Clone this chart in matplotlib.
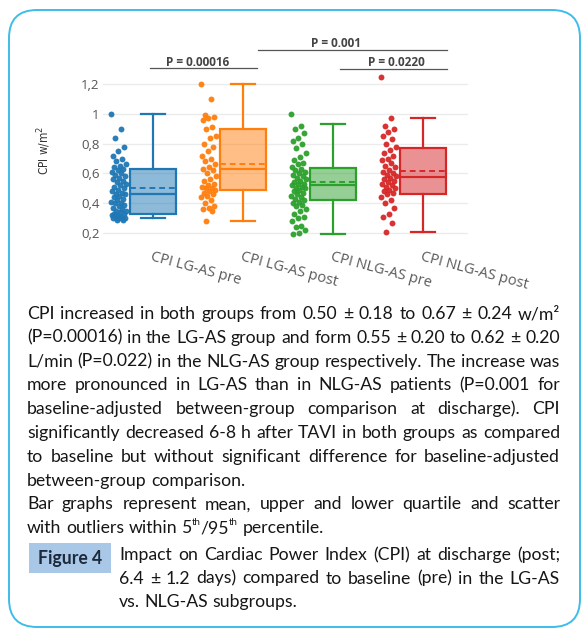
import numpy as np
import matplotlib
matplotlib.use("Agg")
import matplotlib.pyplot as plt
from matplotlib.patches import FancyBboxPatch, Rectangle

# ---------------- data ----------------
categories = ["CPI LG-AS pre", "CPI LG-AS post", "CPI NLG-AS pre", "CPI NLG-AS post"]
colors = ["#1f77b4", "#ff7f0e", "#2ca02c", "#d62728"]

lg_pre = [1.00, 0.90, 0.84, 0.78, 0.75, 0.72, 0.70, 0.68, 0.66, 0.65, 0.64, 0.63, 0.62,
          0.61, 0.60, 0.59, 0.58, 0.57, 0.56, 0.55, 0.54, 0.53, 0.52, 0.51, 0.50, 0.49,
          0.48, 0.47, 0.46, 0.46, 0.45, 0.44, 0.43, 0.42, 0.41, 0.40, 0.40, 0.39, 0.38,
          0.37, 0.36, 0.35, 0.35, 0.34, 0.33, 0.33, 0.32, 0.32, 0.31, 0.31, 0.30, 0.30,
          0.30, 0.29, 0.29]
lg_post = [1.20, 1.10, 0.99, 0.98, 0.97, 0.96, 0.91, 0.90, 0.85, 0.84, 0.80, 0.78, 0.75,
           0.72, 0.70, 0.68, 0.66, 0.64, 0.63, 0.62, 0.60, 0.58, 0.56, 0.55, 0.53, 0.52,
           0.51, 0.50, 0.50, 0.49, 0.48, 0.47, 0.46, 0.45, 0.44, 0.42, 0.40, 0.38, 0.37,
           0.36, 0.35, 0.28]
nlg_pre = [1.00, 0.92, 0.90, 0.87, 0.84, 0.82, 0.80, 0.77, 0.74, 0.71, 0.69, 0.67, 0.66,
           0.64, 0.63, 0.62, 0.61, 0.60, 0.59, 0.58, 0.57, 0.56, 0.55, 0.54, 0.53, 0.53,
           0.52, 0.51, 0.50, 0.50, 0.49, 0.48, 0.47, 0.46, 0.45, 0.44, 0.43, 0.42, 0.41,
           0.40, 0.39, 0.38, 0.36, 0.35, 0.33, 0.31, 0.30, 0.28, 0.25, 0.24, 0.22, 0.20,
           0.19]
nlg_post = [1.25, 0.97, 0.92, 0.90, 0.88, 0.85, 0.83, 0.80, 0.78, 0.76, 0.74, 0.72, 0.70,
            0.69, 0.67, 0.65, 0.64, 0.62, 0.61, 0.60, 0.59, 0.58, 0.57, 0.56, 0.55, 0.54,
            0.53, 0.52, 0.51, 0.50, 0.49, 0.48, 0.47, 0.46, 0.44, 0.42, 0.40, 0.37, 0.33,
            0.31, 0.27, 0.21]
series = [lg_pre, lg_post, nlg_pre, nlg_post]

q1 = [0.33, 0.49, 0.42, 0.46]
medians = [0.46, 0.63, 0.52, 0.575]
q3 = [0.63, 0.90, 0.635, 0.77]
whislo = [0.30, 0.28, 0.19, 0.21]
whishi = [1.00, 1.20, 0.93, 0.97]
means = [0.50, 0.665, 0.545, 0.615]

yticks = [0.2, 0.4, 0.6, 0.8, 1.0, 1.2]
ytick_labels = ["0,2", "0,4", "0,6", "0,8", "1", "1,2"]
ylabel = "CPI w/m$^2$"

p_labels = ["P = 0.00016", "P = 0.001", "P = 0.0220"]

body_lines = [
    "CPI increased in both groups from 0.50 ± 0.18 to 0.67 ± 0.24 w/m²",
    "(P=0.00016) in the LG-AS group and form 0.55 ± 0.20 to 0.62 ± 0.20",
    "L/min (P=0.022) in the NLG-AS group respectively. The increase was",
    "more pronounced in LG-AS than in NLG-AS patients (P=0.001 for",
    "baseline-adjusted between-group comparison at discharge). CPI",
    "significantly decreased 6-8 h after TAVI in both groups as compared",
    "to baseline but without significant difference for baseline-adjusted",
    "between-group comparison.",
    "Bar graphs represent mean, upper and lower quartile and scatter",
]
body_justify = [True, True, True, True, True, True, True, False, True]
caption_label = "Figure 4"
caption_lines = [
    "Impact on Cardiac Power Index (CPI) at discharge (post;",
    "6.4 ± 1.2 days) compared to baseline (pre) in the LG-AS",
    "vs. NLG-AS subgroups.",
]
caption_justify = [True, True, False]

# ---------------- figure ----------------
W, H = 586, 637
fig = plt.figure(figsize=(W / 100, H / 100), dpi=100)
ov = fig.add_axes([0, 0, 1, 1], zorder=0)
ov.set_xlim(0, W)
ov.set_ylim(H, 0)
ov.axis("off")
ov.add_patch(FancyBboxPatch((9, 10), 571, 617,
                            boxstyle="round,pad=0,rounding_size=28",
                            fc="white", ec="#3dbde9", lw=1.4))

# chart axes (pixel layout: left 103, right 468, top 70, bottom 240)
ax = fig.add_axes([103 / W, 1 - 240 / H, 365 / W, 170 / H], zorder=2)
ax.patch.set_alpha(0)
y_at = lambda py: 0.2 + (233 - py) / 149.0
ax.set_ylim(y_at(240), y_at(70))
ax.set_xlim(-0.556, 3.5)
for s in ax.spines.values():
    s.set_visible(False)

pos = np.arange(len(categories))
stats = []
for i in range(len(categories)):
    stats.append(dict(med=medians[i], q1=q1[i], q3=q3[i], whislo=whislo[i],
                      whishi=whishi[i], mean=means[i], fliers=[]))
bp = ax.bxp(stats, positions=pos, widths=0.51, patch_artist=True, showmeans=True,
            meanline=True, showfliers=False, capwidths=0.26)
for i, c in enumerate(colors):
    bp["boxes"][i].set(facecolor=matplotlib.colors.to_rgba(c, 0.5), edgecolor=c, linewidth=1.6)
    bp["medians"][i].set(color=c, linewidth=1.6)
    bp["means"][i].set(color=c, linewidth=1.4, linestyle=(0, (3, 2)))
    for k in (2 * i, 2 * i + 1):
        bp["whiskers"][k].set(color=c, linewidth=1.6)
        bp["caps"][k].set(color=c, linewidth=1.6)

for i, vals in enumerate(series):
    n = len(vals)
    jit = ((np.arange(n) * 0.6180339) % 1 - 0.5) * 0.17
    ax.scatter(pos[i] - 0.38 + jit, vals, s=18, color=colors[i], alpha=0.95,
               linewidths=0, zorder=3)

ax.set_yticks(yticks)
ax.set_yticklabels(ytick_labels, fontfamily="Open Sans", fontsize=9.5, color="#555555")
ax.tick_params(axis="y", length=0, pad=2.5)
ax.grid(axis="y", color="#ebebeb", linewidth=1)
ax.set_axisbelow(True)
ax.set_xticks(pos)
ax.set_xticklabels(categories, rotation=-15, ha="left", rotation_mode="anchor",
                   fontfamily="Open Sans", fontsize=10.5, color="#5a5a5a")
ax.tick_params(axis="x", length=0, pad=7)
ax.set_ylabel(ylabel, fontfamily=["Liberation Sans Narrow", "DejaVu Sans"],
              fontstretch="condensed", fontsize=8.5, color="#333333")
ax.yaxis.set_label_coords(-0.138, 0.53)

# significance brackets
br_x0 = [-0.03, 1.17, 2.08]
br_x1 = [1.16, 3.27, 3.27]
br_y = [y_at(68), y_at(50), y_at(69)]
tx = [0.5, 2.03, 2.7]
ty = [y_at(62), y_at(43.5), y_at(62)]
for k, lab in enumerate(p_labels):
    ax.plot([br_x0[k], br_x1[k]], [br_y[k], br_y[k]], color="#555555", lw=0.9,
            clip_on=False)
    ax.text(tx[k], ty[k], lab, ha="center", va="center", fontfamily="Open Sans",
            fontweight="bold", fontsize=8.5, color="#444444", clip_on=False)

# ---------------- text block ----------------
renderer = fig.canvas.get_renderer()
FONT = "Lato"
TXT = "#161616"


def tw(s, size, weight="normal"):
    t = ov.text(0, 0, s, fontsize=size, fontfamily=FONT, fontweight=weight)
    w = t.get_window_extent(renderer=renderer).width
    t.remove()
    return w


x0, x1 = 27, 560
nat = [tw(l, 10) for l, j in zip(body_lines, body_justify) if j]
fs = 10 * min((x1 - x0) / w for w in nat) * 0.995
space_w = tw("a a", fs) - tw("aa", fs)


def draw_line(line, xa, xb, y, size, justify, color=TXT):
    words = line.split(" ")
    ws = [tw(w, size) for w in words]
    gap = (xb - xa - sum(ws)) / (len(words) - 1) if (justify and len(words) > 1) else space_w
    x = xa
    for w, wd in zip(words, ws):
        ov.text(x, y, w, fontsize=size, fontfamily=FONT, color=color,
                ha="left", va="baseline")
        x += wd + gap


base0, step = 319, 23.8
for i, (l, j) in enumerate(zip(body_lines, body_justify)):
    draw_line(l, x0, x1, base0 + step * i, fs, j)

# last line with superscripts
yb = base0 + step * len(body_lines)
x = x0
for w in ["with", "outliers", "within"]:
    ov.text(x, yb, w, fontsize=fs, fontfamily=FONT, color=TXT, va="baseline")
    x += tw(w, fs) + space_w
for piece, sup in [("5", False), ("th", True), ("/95", False), ("th", True)]:
    sz = fs * 0.55 if sup else fs
    ov.text(x, yb - (8 if sup else 0), piece, fontsize=sz, fontfamily=FONT,
            color=TXT, va="baseline")
    x += tw(piece, sz)
x += space_w
ov.text(x, yb, "percentile.", fontsize=fs, fontfamily=FONT, color=TXT, va="baseline")

# Figure label and caption
ov.add_patch(Rectangle((29, 543), 82, 30, fc="#a9c8e8", ec="none"))
ov.text(70, 564, caption_label, fontsize=fs, fontfamily=FONT, fontweight="bold",
        color="#1c2a3a", ha="center", va="baseline")
cap_base = [560, 583.5, 607]
for l, j, yb in zip(caption_lines, caption_justify, cap_base):
    draw_line(l, 119, x1, yb, fs, j)

fig.savefig("out.png", dpi=100)
